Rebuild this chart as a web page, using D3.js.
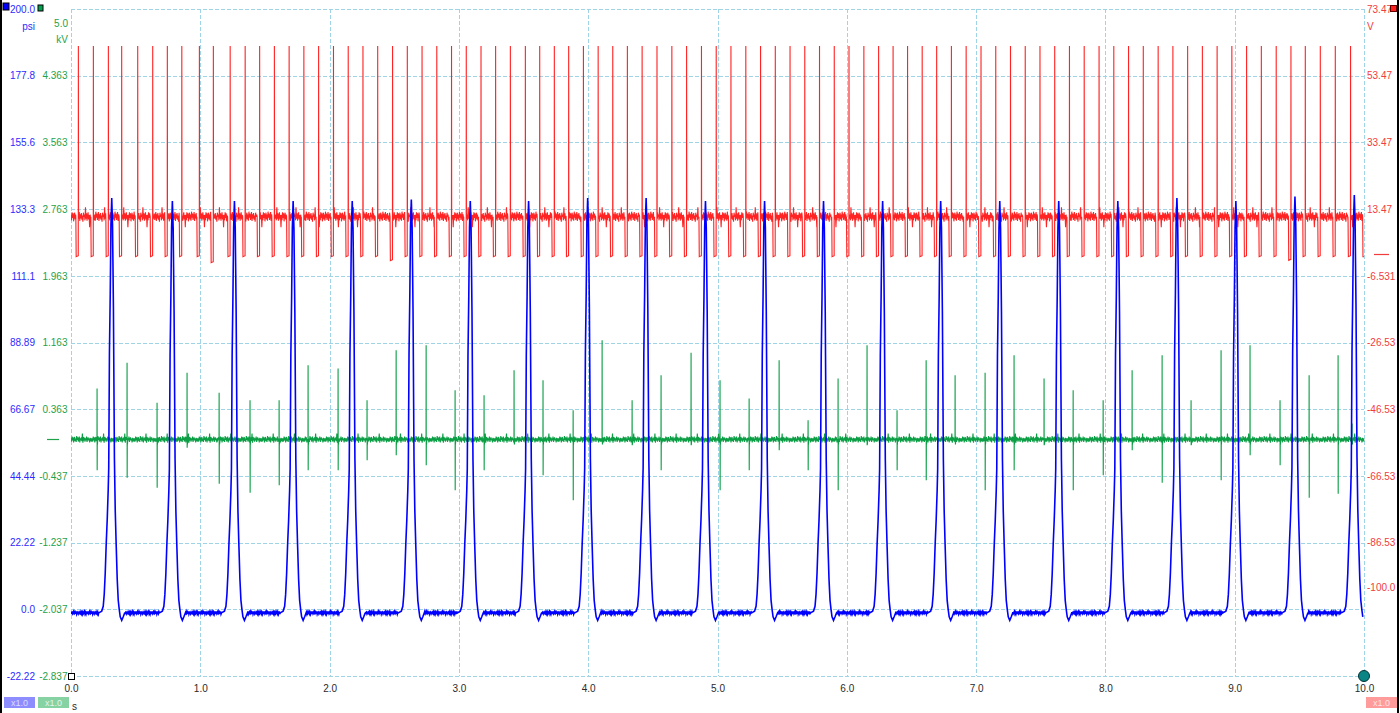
<!DOCTYPE html>
<html><head><meta charset="utf-8">
<script src="https://cdn.jsdelivr.net/npm/d3@7"></script>
<style>
html,body{margin:0;padding:0;background:#fff;}
svg{display:block;}
text{font-family:"Liberation Sans",Arial,sans-serif;}
</style>
</head><body>
<svg id="chart" width="1400" height="713"></svg>
<script>
// ---------------- DATA ----------------
const timeTicks = [0,1,2,3,4,5,6,7,8,9,10];
const timeTickLabels = ["0.0","1.0","2.0","3.0","4.0","5.0","6.0","7.0","8.0","9.0","10.0"];
const psiTicks = [200.0,177.8,155.6,133.3,111.1,88.89,66.67,44.44,22.22,0.0,-22.22];
const psiTickLabels = ["200.0","177.8","155.6","133.3","111.1","88.89","66.67","44.44","22.22","0.0","-22.22"];
const kvTicks = [4.363,3.563,2.763,1.963,1.163,0.363,-0.437,-1.237,-2.037,-2.837];
const kvTickLabels = ["4.363","3.563","2.763","1.963","1.163","0.363","-0.437","-1.237","-2.037","-2.837"];
const voltTicks = [73.47,53.47,33.47,13.47,-6.531,-26.53,-46.53,-66.53,-86.53,-100.0];
const voltTickLabels = ["73.47","53.47","33.47","13.47","-6.531","-26.53","-46.53","-66.53","-86.53","-100.0"];

// Pressure (psi, blue)
const pressurePeakTimes = [0.315,0.784,1.264,1.718,2.175,2.632,3.088,3.539,3.996,4.448,4.907,5.364,5.820,6.277,6.726,7.183,7.639,8.096,8.553,9.009,9.466,9.925];
const pressurePeakValues = [137,136,136,136,136,136.5,136,136,137,137,136,136,136,136,136,136,136,136,137,136,137.5,138];
const pressureShapeOffsets = [-0.1006,-0.0773,-0.0657,-0.058,-0.0503,-0.0425,-0.0348,-0.0271,-0.0232,-0.0178,-0.0116,-0.0062,0,0.0062,0.0132,0.0209,0.0271,0.0348,0.0425,0.0503,0.058,0.0657,0.0773,0.089,0.1006];
const pressureShapeValues  = [-1.2,-0.6,1,5,12,22,30,40,47,85,105,128,137,128,100,50,33,21,10,3,0,-2.5,-3.7,-2.5,-1.2];
const pressureBaseline = -1.2;
const pressureRipple = [0.3,-0.4,0.5,-0.2,0.2,-0.5,0.4,-0.1,0.3,-0.3,0.5,-0.4,0.1,0.3,-0.2,0.4,-0.5,0.2,-0.1,0.4,-0.3,0.2,-0.4,0.3,-0.2,0.1,0.5,-0.3,0.2,-0.4,0.3];

// Injector voltage (V, red)
const injectorTimes = [0.057,0.173,0.289,0.392,0.516,0.632,0.745,0.857,0.993,1.101,1.231,1.347,1.459,1.573,1.687,1.801,1.915,2.030,2.144,2.258,2.372,2.487,2.601,2.715,2.829,2.943,3.057,3.171,3.284,3.398,3.514,3.625,3.738,3.849,3.963,4.077,4.190,4.303,4.417,4.532,4.647,4.761,4.876,4.990,5.104,5.219,5.333,5.447,5.561,5.675,5.789,5.903,6.017,6.132,6.246,6.358,6.470,6.583,6.695,6.809,6.923,7.038,7.152,7.266,7.380,7.494,7.608,7.722,7.836,7.951,8.065,8.179,8.293,8.408,8.522,8.636,8.750,8.864,8.978,9.092,9.206,9.321,9.435,9.546,9.662,9.778,9.896];
const injectorLows = [-0.8,-0.8,-0.8,-0.8,-0.8,-0.8,-0.8,-0.8,-0.8,-2.6,-0.8,-0.8,-0.8,-0.8,-0.8,-0.8,-0.8,-0.8,-0.8,-0.8,-0.8,-2.0,-0.8,-0.8,-0.8,-0.8,-0.8,-0.8,-0.8,-0.8,-0.8,-0.8,-0.8,-0.8,-0.8,-0.8,-0.8,-0.8,-0.8,-0.8,-0.8,-0.8,-0.8,-0.8,-0.8,-0.8,-0.8,-0.8,-0.8,-0.8,-0.8,-0.8,-0.8,-0.8,-0.8,-0.8,-0.8,-0.8,-0.8,-0.8,-0.8,-0.8,-0.8,-0.8,-0.8,-0.8,-0.8,-0.8,-0.8,-0.8,-0.8,-0.8,-0.8,-0.8,-0.8,-0.8,-0.8,-0.8,-0.8,-0.8,-0.8,-0.8,-1.9,-0.8,-0.8,-0.8,-0.8];
const injectorFinalDropTime = 9.992;
const injectorWidth = 0.017;
const injectorBaseline = 11.2;
const injectorPeak = 62.4;
const injectorRipple = [0.6,-1.1,1.3,-0.4,1.0,-1.4,0.2,1.2,-0.8,0.6,-1.2,1.5,-0.3,0.9,-1.0,0.1,1.4,-1.3,0.7,-0.5,1.1,-0.9,0.3,-1.5,1.2,-0.1,0.6,-1.1,2.8,-0.6,1.0,-1.2,0.2,1.3,-0.8,0.5,-3.2];

// Ignition (kV, green)
const sparkTimes   = [0.201,0.433,0.665,0.897,1.145,1.384,1.609,1.833,2.065,2.289,2.514,2.746,2.970,3.194,3.426,3.650,3.883,4.107,4.339,4.563,4.795,5.019,5.244,5.476,5.700,5.932,6.156,6.388,6.613,6.837,7.069,7.293,7.525,7.750,7.982,8.206,8.438,8.662,8.894,9.118,9.350,9.575,9.799,9.907];
const sparkTops    = [0.61,0.92,0.44,0.80,0.56,0.47,0.47,0.89,0.85,0.47,1.07,1.13,0.59,0.53,0.83,0.71,0.35,1.19,0.47,0.77,1.04,0.71,0.49,0.95,0.23,0.73,1.13,0.35,0.95,0.77,0.80,1.01,0.73,0.59,0.47,0.83,1.01,0.47,1.07,1.13,0.47,0.77,1.01,0.19];
const sparkBottoms = [-0.37,-0.46,-0.58,-0.10,-0.53,-0.64,-0.55,-0.37,-0.37,-0.25,-0.19,-0.31,-0.61,-0.37,0,-0.43,-0.73,0,-0.07,-0.37,-0.07,-0.61,-0.37,-0.13,-0.37,-0.61,-0.07,-0.37,-0.49,0,-0.61,-0.37,-0.07,-0.61,-0.43,-0.13,-0.52,-0.07,-0.49,-0.19,-0.31,-0.70,-0.65,-0.04];
const ignitionBaseline = 0.0;
const ignitionRipple = [0.015,-0.025,0.035,-0.01,0.025,-0.035,0.0,0.03,-0.02,0.01,-0.03,0.04,-0.005,0.025,-0.025,0.005,0.035,-0.035,0.015,-0.01,0.025,-0.02,0.07,-0.04,0.03,0.0,0.01,-0.025,0.015,-0.01,0.035,-0.03,0.005,0.025,-0.01,0.01,-0.035,0.02,-0.005,0.015,-0.025];

// ---------------- LAYOUT ----------------
const X0 = 71, X1 = 1364, Y0 = 9, Y1 = 676;
const svg = d3.select("#chart");
const x = d3.scaleLinear().domain([0,10]).range([X0,X1]);
const yPsi = d3.scaleLinear().domain([-22.22,200]).range([Y1,Y0]);
const yKv = d3.scaleLinear().domain([-2.837,5.163]).range([Y1,Y0]);
const yV = d3.scaleLinear().domain([-126.53,73.47]).range([Y1,Y0]);

svg.append("rect").attr("x",0).attr("y",0).attr("width",1400).attr("height",713).attr("fill","#fff");
svg.append("line").attr("x1",1).attr("x2",1).attr("y1",0).attr("y2",713).attr("stroke","#000").attr("stroke-width",2);
svg.append("line").attr("x1",1398).attr("x2",1398).attr("y1",0).attr("y2",713).attr("stroke","#000").attr("stroke-width",2);

// grid
const gridColor = "#9fd3e6";
const g = svg.append("g");
g.selectAll("line.v").data(timeTicks).enter().append("line")
  .attr("x1",d=>Math.round(x(d))+0.5).attr("x2",d=>Math.round(x(d))+0.5)
  .attr("y1",Y0).attr("y2",Y1)
  .attr("stroke",gridColor).attr("stroke-dasharray","4,2");
g.selectAll("line.h").data(psiTicks).enter().append("line")
  .attr("x1",X0).attr("x2",X1)
  .attr("y1",d=>Math.round(yPsi(d))+0.5).attr("y2",d=>Math.round(yPsi(d))+0.5)
  .attr("stroke",gridColor).attr("stroke-dasharray","4,2");

// axes
const fs = "10px";
const axBlue = svg.append("g").attr("transform",`translate(35,0)`)
  .call(d3.axisLeft(yPsi).tickValues(psiTicks).tickFormat((d,i)=>psiTickLabels[i]).tickSize(0).tickPadding(0));
axBlue.select(".domain").remove();
axBlue.selectAll("text").attr("fill","#2b2bff").style("font-size",fs).attr("font-family","Liberation Sans, Arial, sans-serif");

const axGreen = svg.append("g").attr("transform",`translate(67.5,0)`)
  .call(d3.axisLeft(yKv).tickValues(kvTicks).tickFormat((d,i)=>kvTickLabels[i]).tickSize(0).tickPadding(0));
axGreen.select(".domain").remove();
axGreen.selectAll("text").attr("fill","#1fa24a").style("font-size",fs).attr("font-family","Liberation Sans, Arial, sans-serif");

const axRed = svg.append("g").attr("transform",`translate(1367,0)`)
  .call(d3.axisRight(yV).tickValues(voltTicks).tickFormat((d,i)=>voltTickLabels[i]).tickSize(0).tickPadding(0));
axRed.select(".domain").remove();
axRed.selectAll("text").attr("fill","#f23c3c").style("font-size",fs).attr("font-family","Liberation Sans, Arial, sans-serif");

const axX = svg.append("g").attr("transform",`translate(0,${Y1})`)
  .call(d3.axisBottom(x).tickValues(timeTicks).tickFormat((d,i)=>timeTickLabels[i]).tickSize(0).tickPadding(9));
axX.select(".domain").remove();
axX.selectAll("text").attr("fill","#2a2a2a").style("font-size",fs).attr("font-family","Liberation Sans, Arial, sans-serif");

function txt(t, xx, yy, color, anchor){
  svg.append("text").attr("x",xx).attr("y",yy).attr("fill",color).attr("text-anchor",anchor||"start")
    .style("font-size",fs).text(t);
}
txt("psi",35,30,"#2b2bff","end");
txt("5.0",68,27,"#1fa24a","end");
txt("kV",68,43,"#1fa24a","end");
txt("V",1367,30,"#f23c3c","start");
txt("s",72,710,"#2a2a2a","start");

svg.append("rect").attr("x",3).attr("y",3).attr("width",6).attr("height",7).attr("fill","#0000ff").attr("stroke","#000").attr("stroke-width",1);
svg.append("rect").attr("x",38).attr("y",5).attr("width",5).attr("height",6).attr("fill","#00a050").attr("stroke","#000").attr("stroke-width",1);
svg.append("rect").attr("x",1390.5).attr("y",5.5).attr("width",6).attr("height",6).attr("fill","#ff2020").attr("stroke","#600").attr("stroke-width",1);

svg.append("line").attr("x1",47).attr("x2",59).attr("y1",Math.round(yKv(0))+0.5).attr("y2",Math.round(yKv(0))+0.5).attr("stroke","#1fa24a").attr("stroke-width",1.2);
svg.append("line").attr("x1",1374).attr("x2",1389).attr("y1",Math.round(yV(0))+0.5).attr("y2",Math.round(yV(0))+0.5).attr("stroke","#f23c3c").attr("stroke-width",1.2);

function badge(bx, color, tcolor){
  svg.append("rect").attr("x",bx).attr("y",697).attr("width",31).attr("height",11).attr("fill",color);
  svg.append("text").attr("x",bx+15.5).attr("y",706).attr("text-anchor","middle").attr("fill",tcolor).style("font-size","9px").text("x1.0");
}
badge(4,"#8d8dff","#dcdcff");
badge(38,"#86d2a3","#e0f5e8");
badge(1366,"#ff9b9b","#ffe2e2");

// ---------------- TRACES ----------------
const dt = 0.004, N = Math.round(10/dt);
svg.append("clipPath").attr("id","pc").append("rect").attr("x",X0).attr("y",Y0-2).attr("width",X1-X0+1).attr("height",Y1-Y0+4);

function buildInjector(){
  const windows = injectorTimes.map(t=>[t-injectorWidth-0.003, t+0.004]);
  windows.push([injectorFinalDropTime-0.003, 10.01]);
  const pts = [];
  for(let i=0;i<=N;i++){
    const t=i*dt;
    if(windows.some(w=>t>=w[0]&&t<=w[1])) continue;
    pts.push([t, injectorBaseline + injectorRipple[i%injectorRipple.length]]);
  }
  injectorTimes.forEach((t,k)=>{
    const lo = injectorLows[k];
    pts.push([t-injectorWidth-0.0025, injectorBaseline]);
    pts.push([t-injectorWidth, lo]);
    pts.push([t-0.0008, lo+0.3]);
    pts.push([t, injectorPeak]);
    pts.push([t+0.0012, injectorBaseline+0.5]);
    pts.push([t+0.0035, injectorBaseline-0.6]);
  });
  pts.push([injectorFinalDropTime-0.0025, injectorBaseline]);
  pts.push([injectorFinalDropTime, -0.8]);
  pts.push([10, -0.8]);
  pts.sort((a,b)=>a[0]-b[0]);
  return pts;
}
function buildIgnition(){
  const windows = sparkTimes.map(t=>[t-0.001,t+0.004]);
  const pts=[];
  for(let i=0;i<=N;i++){
    const t=i*dt;
    if(windows.some(w=>t>=w[0]&&t<=w[1])) continue;
    pts.push([t, ignitionBaseline + ignitionRipple[i%ignitionRipple.length]]);
  }
  sparkTimes.forEach((t,k)=>{
    pts.push([t, 0.0]);
    pts.push([t+0.0006, sparkTops[k]]);
    pts.push([t+0.0014, sparkBottoms[k]]);
    pts.push([t+0.0022, -0.03]);
    pts.push([t+0.0035, -0.06]);
  });
  pts.sort((a,b)=>a[0]-b[0]);
  return pts;
}
function buildPressure(){
  const lo = pressureShapeOffsets[0], hi = pressureShapeOffsets[pressureShapeOffsets.length-1];
  const pts=[];
  for(let i=0;i<=N;i++){
    const t=i*dt;
    if(pressurePeakTimes.some(p=>t-p>=lo && t-p<=hi)) continue;
    pts.push([t, pressureBaseline + pressureRipple[i%pressureRipple.length]]);
  }
  pressurePeakTimes.forEach((p,k)=>{
    const s = pressurePeakValues[k]/137;
    pressureShapeOffsets.forEach((o,j)=>{
      const t=p+o;
      if(t<0||t>10) return;
      const v = pressureShapeValues[j];
      pts.push([t, v>0 ? v*s : v]);
    });
  });
  pts.sort((a,b)=>a[0]-b[0]);
  return pts;
}
const traces = svg.append("g").attr("clip-path","url(#pc)");
traces.append("path").datum(buildInjector())
  .attr("d", d3.line().x(d=>x(d[0])).y(d=>yV(d[1])))
  .attr("fill","none").attr("stroke","#ff2323").attr("stroke-width",1.1);
traces.append("path").datum(buildIgnition())
  .attr("d", d3.line().x(d=>x(d[0])).y(d=>yKv(d[1])))
  .attr("fill","none").attr("stroke","#0b9e45").attr("stroke-width",1.1);
traces.append("path").datum(buildPressure())
  .attr("d", d3.line().x(d=>x(d[0])).y(d=>yPsi(d[1])))
  .attr("fill","none").attr("stroke","#0000ff").attr("stroke-width",1.6);

svg.append("rect").attr("x",68.5).attr("y",673.5).attr("width",6).attr("height",6).attr("fill","#fff").attr("stroke","#000").attr("stroke-width",1);
svg.append("circle").attr("cx",x(10)).attr("cy",Y1).attr("r",5.5).attr("fill","#0a8585").attr("stroke","#033").attr("stroke-width",1);
</script>
</body></html>
